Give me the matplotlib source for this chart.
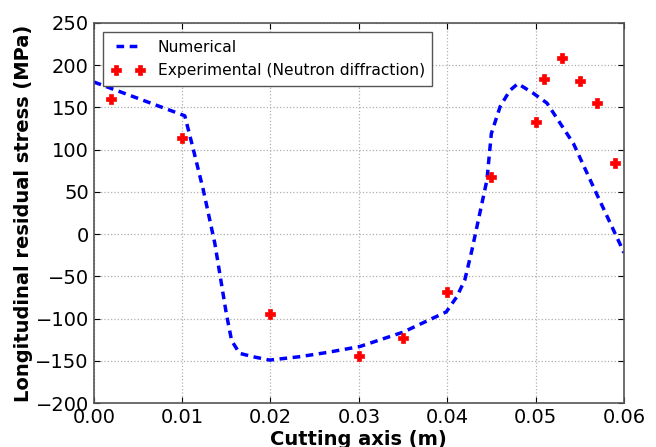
import matplotlib
matplotlib.use("Agg")
import matplotlib.pyplot as plt

# numerical curve (FE model)
num_x = [0.0, 0.0103, 0.0112, 0.0124, 0.0137, 0.0150, 0.0156, 0.0165, 0.0180,
         0.0199, 0.0233, 0.0264, 0.0301, 0.0350, 0.0399, 0.0411, 0.0420, 0.0428,
         0.0437, 0.0445, 0.0450, 0.0460, 0.0471, 0.0480, 0.0497, 0.0513, 0.0543,
         0.0569, 0.0598, 0.0600]
num_y = [180, 140, 103, 52, -11, -94, -126, -141, -145,
         -149, -145, -140, -133, -116, -92, -74, -54, -19,
         25, 64, 119, 151, 170, 178, 167, 155, 107,
         48, -17, -22]

# neutron diffraction measurements
exp_x = [0.002, 0.010, 0.020, 0.030, 0.035, 0.040, 0.045, 0.050, 0.051,
         0.053, 0.055, 0.057, 0.059]
exp_y = [160, 114, -95, -144, -123, -69, 68, 133, 183, 208, 181, 155, 84]

fig = plt.figure(figsize=(6.56, 4.47), dpi=100)
ax = fig.add_axes([0.143, 0.098, 0.808, 0.851])

ax.plot(num_x, num_y, color="blue", linestyle=(0, (2.2, 1.6)), linewidth=2.5,
        label="Numerical")
ax.plot(exp_x, exp_y, linestyle="none", marker="P", markersize=6.5, color="red",
        markeredgecolor="red", markeredgewidth=0.5,
        label="Experimental (Neutron diffraction)")

ax.set_xlim(0, 0.06)
ax.set_ylim(-200, 250)
ax.set_xticks([0.0, 0.01, 0.02, 0.03, 0.04, 0.05, 0.06])
ax.set_xticklabels(["0.00", "0.01", "0.02", "0.03", "0.04", "0.05", "0.06"])
ax.set_yticks(range(-200, 251, 50))
ax.tick_params(direction="in", top=True, right=True, labelsize=14, length=4)
ax.grid(True, color="#b0b0b0", linestyle=":", linewidth=0.9)
for s in ax.spines.values():
    s.set_color("#555555")
    s.set_linewidth(1.2)

ax.set_xlabel("Cutting axis (m)", fontsize=14, fontweight="bold", labelpad=2)
ax.set_ylabel("Longitudinal residual stress (MPa)", fontsize=14, fontweight="bold",
              labelpad=2)

leg = ax.legend(loc="upper left", numpoints=2, fontsize=11.2, fancybox=False,
                framealpha=1, borderaxespad=0.6, handlelength=2.2,
                borderpad=0.5, labelspacing=0.55)
leg.get_frame().set_edgecolor("#555555")

fig.savefig("out.png", dpi=100)
